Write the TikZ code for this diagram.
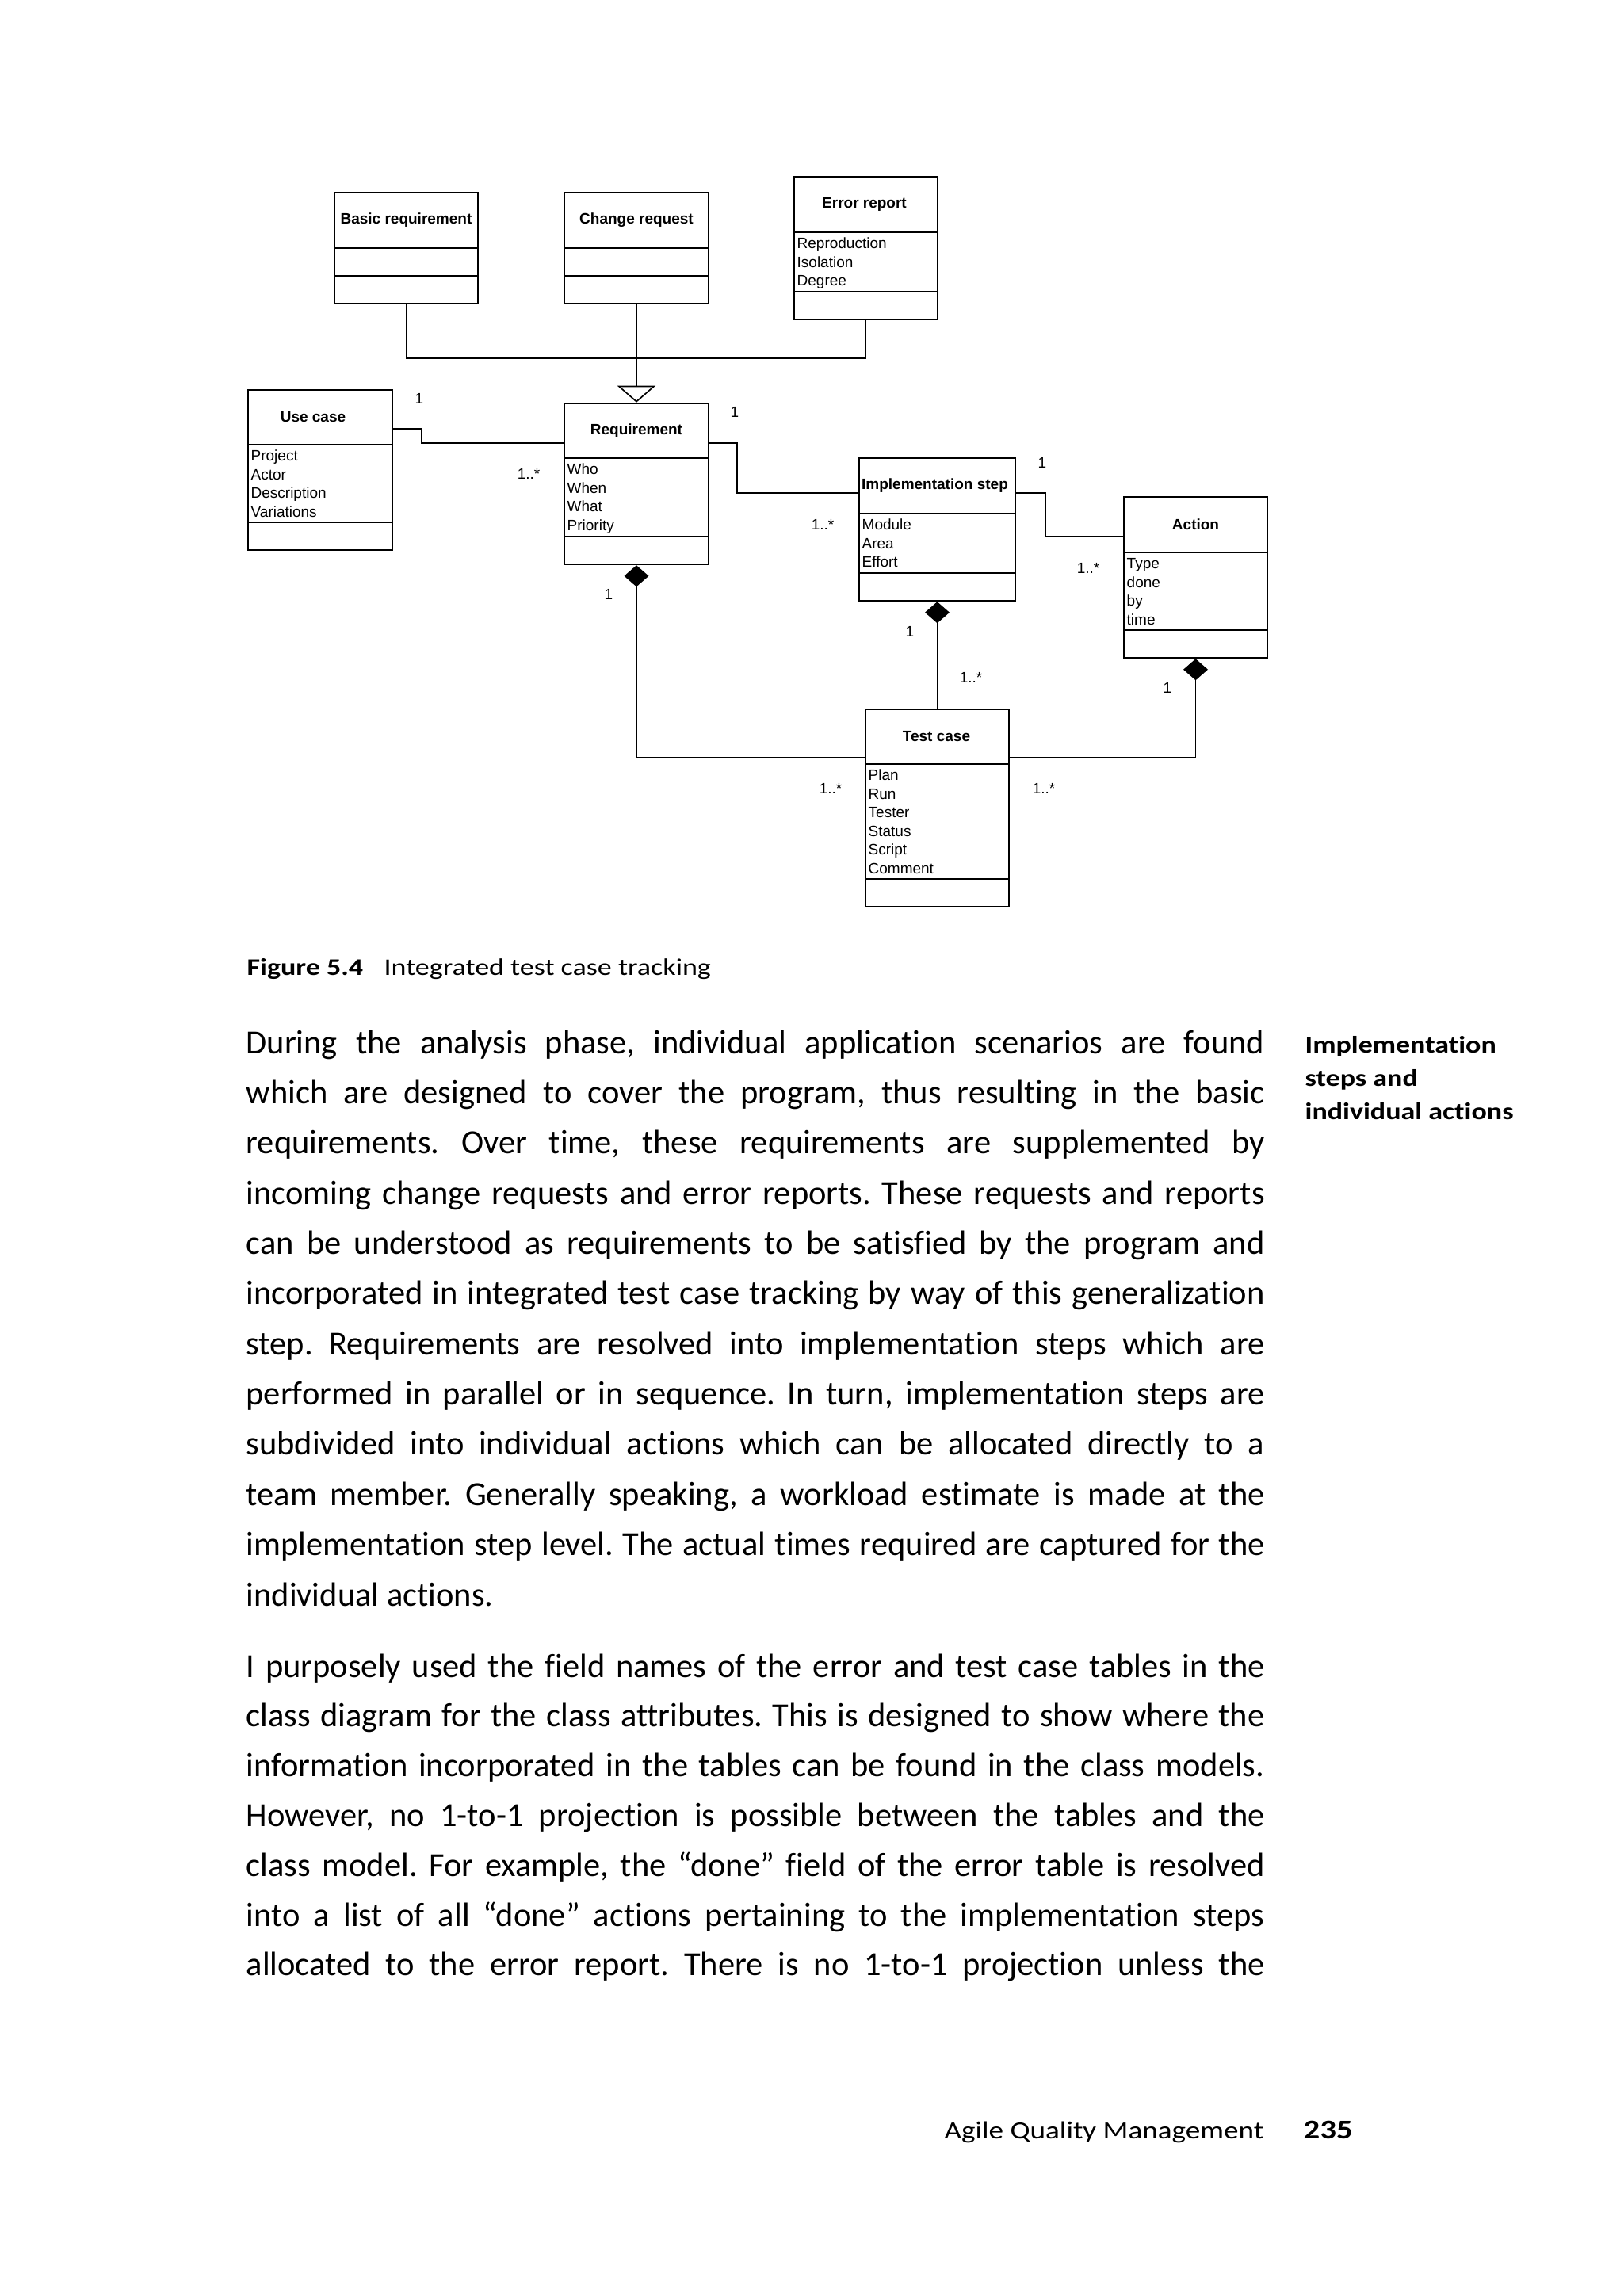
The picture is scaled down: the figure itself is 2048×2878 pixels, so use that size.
\documentclass[tikz,border=0pt]{standalone}
\usepackage{fontspec}
\setmainfont{Liberation Sans}
\newfontfamily\umlfont{Liberation Sans}
\newfontfamily\bodyfont{Carlito}[Ligatures=NoCommon]
\newfontfamily\widefont{Carlito}[FakeStretch=1.2,Ligatures=NoCommon]
\usetikzlibrary{arrows.meta,fit,calc}
\frenchspacing

\tikzset{
  cbox/.style={draw, line width=0.75pt, inner sep=0pt},
  sepline/.style={line width=0.75pt},
  ctitle/.style={font={\umlfont\bfseries\fontsize{5.7pt}{7pt}\selectfont}, inner sep=0pt},
  cattr/.style={font={\umlfont\fontsize{5.7pt}{7pt}\selectfont}, anchor=base west, inner sep=0pt},
  mult/.style={font={\umlfont\fontsize{5.7pt}{7pt}\selectfont}, inner sep=0pt},
  conn/.style={line width=0.5pt},
  comp/.style={conn, {Diamond[length=8.1pt,width=9.3pt]}-},
  gen/.style={conn, -{Triangle[open,length=6.3pt,width=14.4pt]}},
  bodyline/.style={font={\bodyfont\fontsize{12.75pt}{15pt}\selectfont}, anchor=base west, inner sep=0pt},
  capline/.style={font={\widefont\fontsize{9pt}{11pt}\selectfont}, anchor=base west, inner sep=0pt},
  margline/.style={font={\widefont\bfseries\fontsize{9pt}{11pt}\selectfont}, anchor=base west, inner sep=0pt},
  footline/.style={font={\widefont\fontsize{9.3pt}{11pt}\selectfont}, inner sep=0pt}
}

% name, left, top, right, bottom, sep1, sep2, title, title x-offset
\newcommand\classbox[9]{%
  \node[cbox, fit={(#2,#3) (#4,#5)}] (#1) {};
  \draw[sepline] (#2,#6) -- (#4,#6);
  \draw[sepline] (#2,#7) -- (#4,#7);
  \node[ctitle] (#1-title) at ({(#2+#4)/2+#9},{(#3+#6)/2}) {#8};
}
% name, left, sep1, list
\newcommand\classattrs[4]{%
  \foreach \a [count=\i] in {#4} {
    \node[cattr] (#1-a\i) at ({#2+3},{#3+20.8+23.5*(\i-1)}) {\a};
  }
}
% name, y, text (justified)
\newcommand\jline[3]{\node[bodyline] (#1) at (310,#2) {\makebox[385.5pt][s]{#3}};}
\newcommand\lastline[3]{\node[bodyline] (#1) at (310,#2) {#3};}

\begin{document}
\begin{tikzpicture}[x=0.3pt,y=-0.3pt]
\fill[white] (0,0) rectangle (2048,2878);
\useasboundingbox (0,0) rectangle (2048,2878);

% ---------- classes ----------
\classbox{basic}{422}{243}{603}{383}{313}{348}{Basic requirement}{0}
\classbox{change}{712}{243}{894}{383}{313}{348}{Change request}{0}
\classbox{error}{1002}{223}{1183}{403}{293}{368}{Error report}{-2}
\classattrs{error}{1002}{293}{Reproduction,Isolation,Degree}
\classbox{usecase}{313}{492}{495}{694}{561}{659}{Use case}{-9}
\classattrs{usecase}{313}{561}{Project,Actor,Description,Variations}
\classbox{req}{712}{509}{894}{712}{578}{677}{Requirement}{0}
\classattrs{req}{712}{578}{Who,When,What,Priority}
\classbox{impl}{1084}{578}{1281}{758}{648}{723}{Implementation step}{-3}
\classattrs{impl}{1084}{648}{Module,Area,Effort}
\classbox{action}{1418}{627}{1599}{830}{697}{795}{Action}{0}
\classattrs{action}{1418}{697}{Type,done,by,time}
\classbox{test}{1092}{895}{1273}{1144}{964}{1109}{Test case}{-1}
\classattrs{test}{1092}{964}{Plan,Run,Tester,Status,Script,Comment}

% ---------- generalization ----------
\coordinate (gj) at (803,452);
\draw[conn] (basic.south) |- (gj) -| (error.south);
\draw[gen] (change.south) -- (req.north);

% ---------- associations ----------
\draw[conn] ($(usecase.north east)+(0,50)$) -- ++(36,0) |- ($(req.north west)+(0,51)$);
\draw[conn] ($(req.north east)+(0,51)$) -- ++(35,0) |- ($(impl.north west)+(0,45)$);
\draw[conn] ($(impl.north east)+(0,45)$) -- ++(37,0) |- ($(action.north west)+(0,51)$);

% ---------- compositions ----------
\draw[comp] (req.south) |- ($(test.north west)+(0,62)$);
\draw[comp] (impl.south) -- (test.north);
\draw[comp] (action.south) |- ($(test.north east)+(0,62)$);

% ---------- multiplicities ----------
\node[mult] (m1) at (529,503) {1};
\node[mult] (m2) at (667,598) {1..*};
\node[mult] (m3) at (927,520) {1};
\node[mult] (m4) at (1038,662) {1..*};
\node[mult] (m5) at (1315,584) {1};
\node[mult] (m6) at (1373,717) {1..*};
\node[mult] (m7) at (768,750) {1};
\node[mult] (m8) at (1148,797) {1};
\node[mult] (m9) at (1225,855) {1..*};
\node[mult] (m10) at (1473,868) {1};
\node[mult] (m11) at (1048,995) {1..*};
\node[mult] (m12) at (1317,995) {1..*};

% ---------- caption ----------
\node[capline] (capa) at (311,1230) {\bfseries Figure 5.4};
\node[capline] (capb) at (484,1230) {Integrated test case tracking};

% ---------- margin note ----------
\node[margline] (mn1) at (1646,1328) {Implementation};
\node[margline] (mn2) at (1646,1370) {steps and};
\node[margline] (mn3) at (1646,1412) {individual actions};

% ---------- body text ----------
\jline{p1}{1329}{During the analysis phase, individual application scenarios are found}
\jline{p2}{1392.4}{which are designed to cover the program, thus resulting in the basic}
\jline{p3}{1455.7}{requirements. Over time, these requirements are supplemented by}
\jline{p4}{1519.1}{incoming change requests and error reports. These requests and reports}
\jline{p5}{1582.4}{can be understood as requirements to be satisfied by the program and}
\jline{p6}{1645.8}{incorporated in integrated test case tracking by way of this generalization}
\jline{p7}{1709.2}{step. Requirements are resolved into implementation steps which are}
\jline{p8}{1772.5}{performed in parallel or in sequence. In turn, implementation steps are}
\jline{p9}{1835.9}{subdivided into individual actions which can be allocated directly to a}
\jline{p10}{1899.2}{team member. Generally speaking, a workload estimate is made at the}
\jline{p11}{1962.6}{implementation step level. The actual times required are captured for the}
\lastline{p12}{2026}{individual actions.}

\jline{q1}{2116}{I purposely used the field names of the error and test case tables in the}
\jline{q2}{2178.8}{class diagram for the class attributes. This is designed to show where the}
\jline{q3}{2241.6}{information incorporated in the tables can be found in the class models.}
\jline{q4}{2304.4}{However, no 1-to-1 projection is possible between the tables and the}
\jline{q5}{2367.2}{class model. For example, the “done” field of the error table is resolved}
\jline{q6}{2430}{into a list of all “done” actions pertaining to the implementation steps}
\jline{q7}{2492.8}{allocated to the error report. There is no 1-to-1 projection unless the}

% ---------- footer ----------
\node[footline, anchor=base east] (foot) at (1595,2698) {Agile Quality Management};
\node[footline, anchor=base west] (pageno) at (1644,2698) {\bfseries\fontsize{10.2pt}{12pt}\selectfont 235};
\end{tikzpicture}
\end{document}
